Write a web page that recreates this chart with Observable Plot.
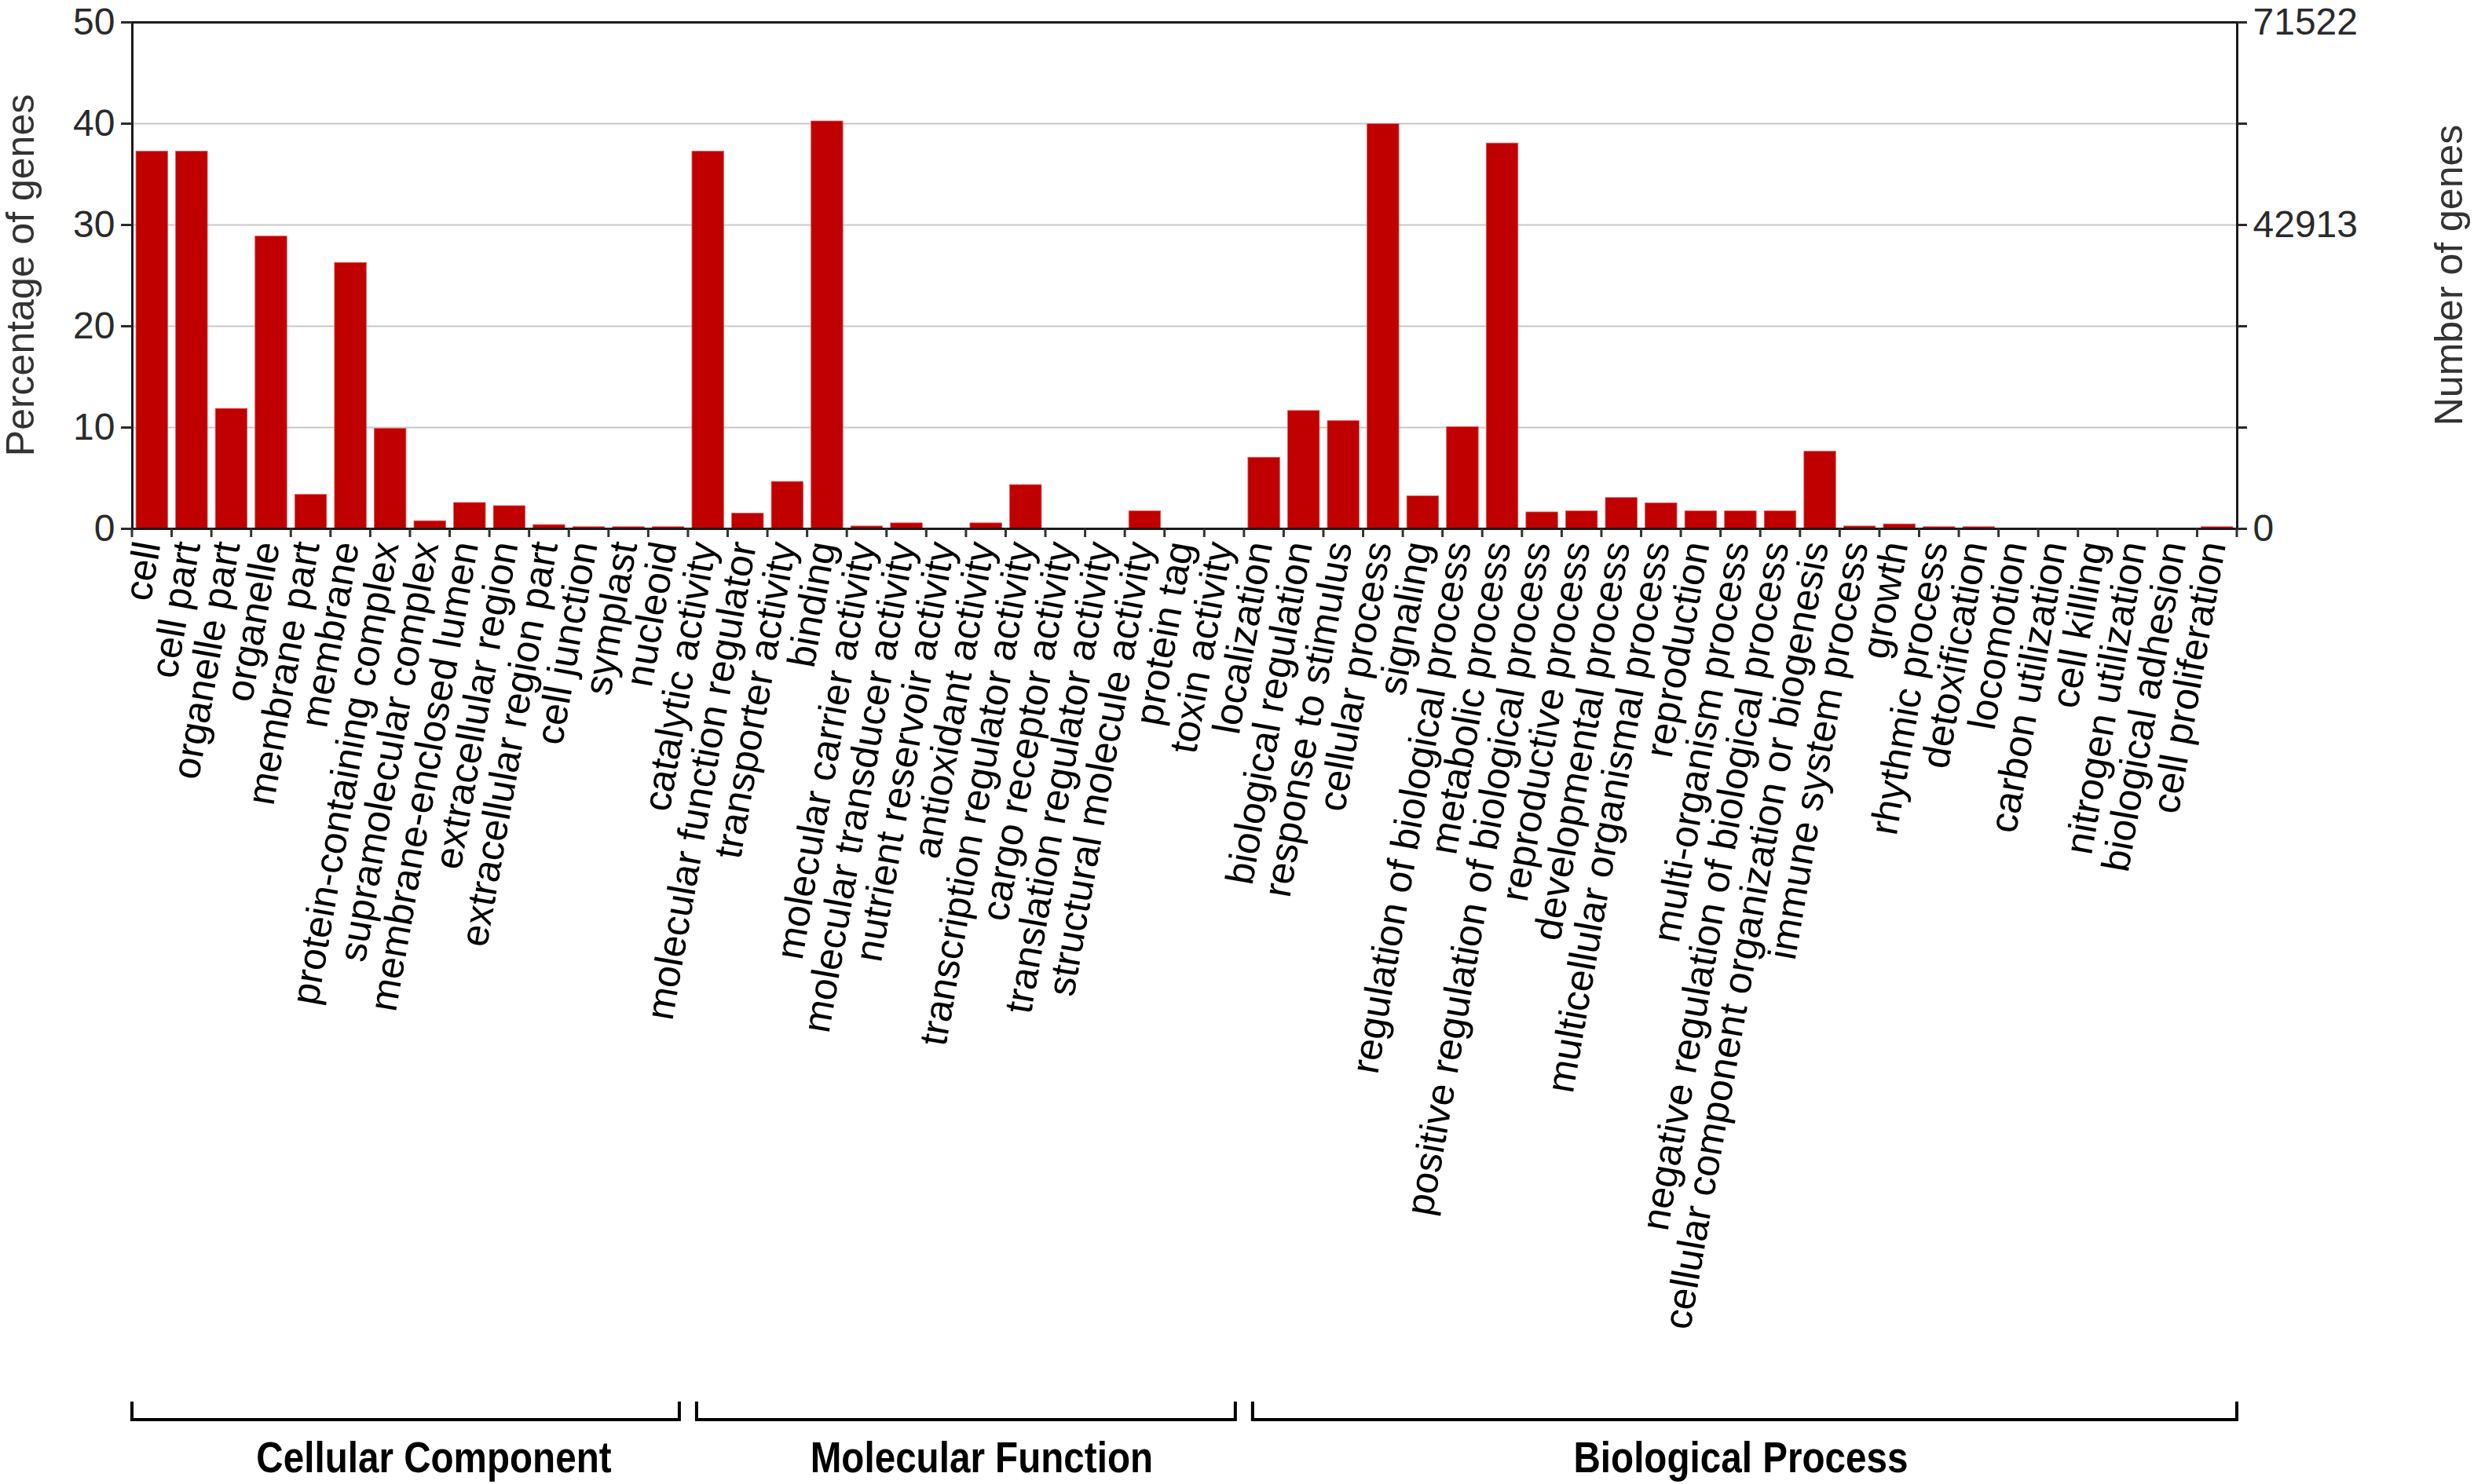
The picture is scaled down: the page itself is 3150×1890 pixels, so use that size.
<!DOCTYPE html>
<html><head><meta charset="utf-8">
<script src="https://cdn.jsdelivr.net/npm/d3@7"></script>
<script src="https://cdn.jsdelivr.net/npm/@observablehq/plot@0.6"></script>
<style>html,body{margin:0;padding:0;background:#fff} svg{display:block}</style>
</head><body><div id="chart"></div>
<script>
// ---- data ----
const cellularComponent = ["cell","cell part","organelle part","organelle","membrane part","membrane","protein-containing complex","supramolecular complex","membrane-enclosed lumen","extracellular region","extracellular region part","cell junction","symplast","nucleoid"];
const ccValues = [37.25, 37.25, 11.85, 28.86, 3.36, 26.26, 9.88, 0.76, 2.56, 2.25, 0.38, 0.17, 0.17, 0.17];
const molecularFunction = ["catalytic activity","molecular function regulator","transporter activity","binding","molecular carrier activity","molecular transducer activity","nutrient reservoir activity","antioxidant activity","transcription regulator activity","cargo receptor activity","translation regulator activity","structural molecule activity","protein tag","toxin activity"];
const mfValues = [37.25, 1.52, 4.64, 40.23, 0.24, 0.55, 0, 0.55, 4.33, 0, 0, 1.73, 0, 0];
const biologicalProcess = ["localization","biological regulation","response to stimulus","cellular process","signaling","regulation of biological process","metabolic process","positive regulation of biological process","reproductive process","developmental process","multicellular organismal process","reproduction","multi-organism process","negative regulation of biological process","cellular component organization or biogenesis","immune system process","growth","rhythmic process","detoxification","locomotion","carbon utilization","cell killing","nitrogen utilization","biological adhesion","cell proliferation"];
const bpValues = [7.03, 11.64, 10.64, 39.95, 3.22, 10.05, 38.05, 1.63, 1.73, 3.05, 2.53, 1.73, 1.73, 1.73, 7.62, 0.24, 0.45, 0.17, 0.17, 0, 0, 0, 0, 0, 0.17];
const groupNames = ["Cellular Component","Molecular Function","Biological Process"];
const percentTicks = [0, 10, 20, 30, 40, 50];
const countLabelTicks = [0, 30, 50];
const totalGenes = 143044;
const leftTitle = "Percentage of genes";
const rightTitle = "Number of genes";

// ---- table ----
const groups = [[cellularComponent, ccValues], [molecularFunction, mfValues], [biologicalProcess, bpValues]];
const rows = [];
groups.forEach(([terms, vals], gi) => terms.forEach((t, i) => rows.push({term: t, pct: vals[i], group: groupNames[gi]})));
const terms = rows.map(d => d.term);

const W = 3150, H = 1890;
const FONT = "'Liberation Sans', Arial, Helvetica, sans-serif";
const PI = 0.2, PO = 0.1;

const chart = Plot.plot({
  width: W, height: H,
  marginLeft: 168, marginRight: 302, marginTop: 28, marginBottom: 1217,
  style: {fontFamily: FONT, background: "#fff", overflow: "visible"},
  x: {domain: terms, paddingInner: PI, paddingOuter: PO, round: false, axis: null},
  y: {domain: [0, 50], axis: null},
  marks: [
    Plot.ruleY([10, 20, 30, 40], {stroke: "#c8c8c8", strokeWidth: 2}),
    Plot.barY(rows, {x: "term", y: "pct", fill: "#c00000", stroke: "#e05a5a", strokeWidth: 0.8}),
    Plot.frame({stroke: "#1a1a1a", strokeWidth: 3}),
    Plot.axisY(percentTicks, {anchor: "left", tickSize: 14, tickPadding: 8, fontSize: 48, color: "#2a2a2a", strokeWidth: 3, label: null}),
    Plot.axisY(percentTicks, {anchor: "right", tickSize: 12, tickPadding: 8, fontSize: 48, color: "#2a2a2a", strokeWidth: 3, label: null,
      tickFormat: d => countLabelTicks.includes(d) ? String(Math.round(d / 100 * totalGenes)) : ""}),
    Plot.text(terms, {x: d => d, frameAnchor: "bottom", text: d => d, rotate: -80, textAnchor: "end", lineAnchor: "middle", dx: -5, dy: 17, fontSize: 50, fill: "#000"})
  ]
});
document.getElementById("chart").appendChild(chart);

const svg = d3.select(chart);
const xs = chart.scale("x");
const ys = chart.scale("y");
const y0 = ys.apply(0);
const yMid = (ys.apply(0) + ys.apply(50)) / 2;
const xLeft = xs.range[0], xRight = xs.range[1];

// axis titles
svg.append("text").attr("transform", `translate(${xLeft - 142},${yMid}) rotate(-90)`)
  .attr("text-anchor", "middle").attr("dominant-baseline", "central")
  .attr("font-family", FONT).attr("font-size", 50).attr("fill", "#333").text(leftTitle);
svg.append("text").attr("transform", `translate(${xRight + 270},${yMid}) rotate(-90)`)
  .attr("text-anchor", "middle").attr("dominant-baseline", "central")
  .attr("font-family", FONT).attr("font-size", 50).attr("fill", "#333").text(rightTitle);

// ---- boundary ticks, group brackets and group labels from the x scale ----
const n = terms.length;
const step = (xRight - xLeft) / (n - PI + 2 * PO);
const bw = step * (1 - PI);
const boundary = i => i < n ? xs.apply(terms[i]) - (step - bw) / 2 : xs.apply(terms[n - 1]) - (step - bw) / 2 + step;

const g = svg.append("g");
g.selectAll("line.bt").data(d3.range(n + 1)).join("line")
  .attr("x1", i => boundary(i)).attr("x2", i => boundary(i))
  .attr("y1", y0).attr("y2", y0 + 11)
  .attr("stroke", "#333").attr("stroke-width", 3);

const bracketY = 1808, bracketTop = 1785, inset = 11;
const labelOffsets = [36, 20, -5];
let start = 0;
groups.forEach(([gterms], gi) => {
  const end = start + gterms.length;
  const xa = boundary(start) + (gi > 0 ? inset : 0);
  const xb = boundary(end) - (gi < groups.length - 1 ? inset : 0);
  g.append("path")
    .attr("d", `M${xa},${bracketTop}V${bracketY}H${xb}V${bracketTop}`)
    .attr("fill", "none").attr("stroke", "#000").attr("stroke-width", 4);
  const t = g.append("text")
    .attr("x", (xa + xb) / 2 + labelOffsets[gi]).attr("y", 1875)
    .attr("text-anchor", "middle").attr("font-family", FONT)
    .attr("font-weight", "bold").attr("font-size", 56).attr("fill", "#000")
    .text(groupNames[gi]);
  const len = t.node().getComputedTextLength();
  if (len > 0) t.attr("textLength", len * 0.85).attr("lengthAdjust", "spacingAndGlyphs");
  start = end;
});
</script>
</body></html>
